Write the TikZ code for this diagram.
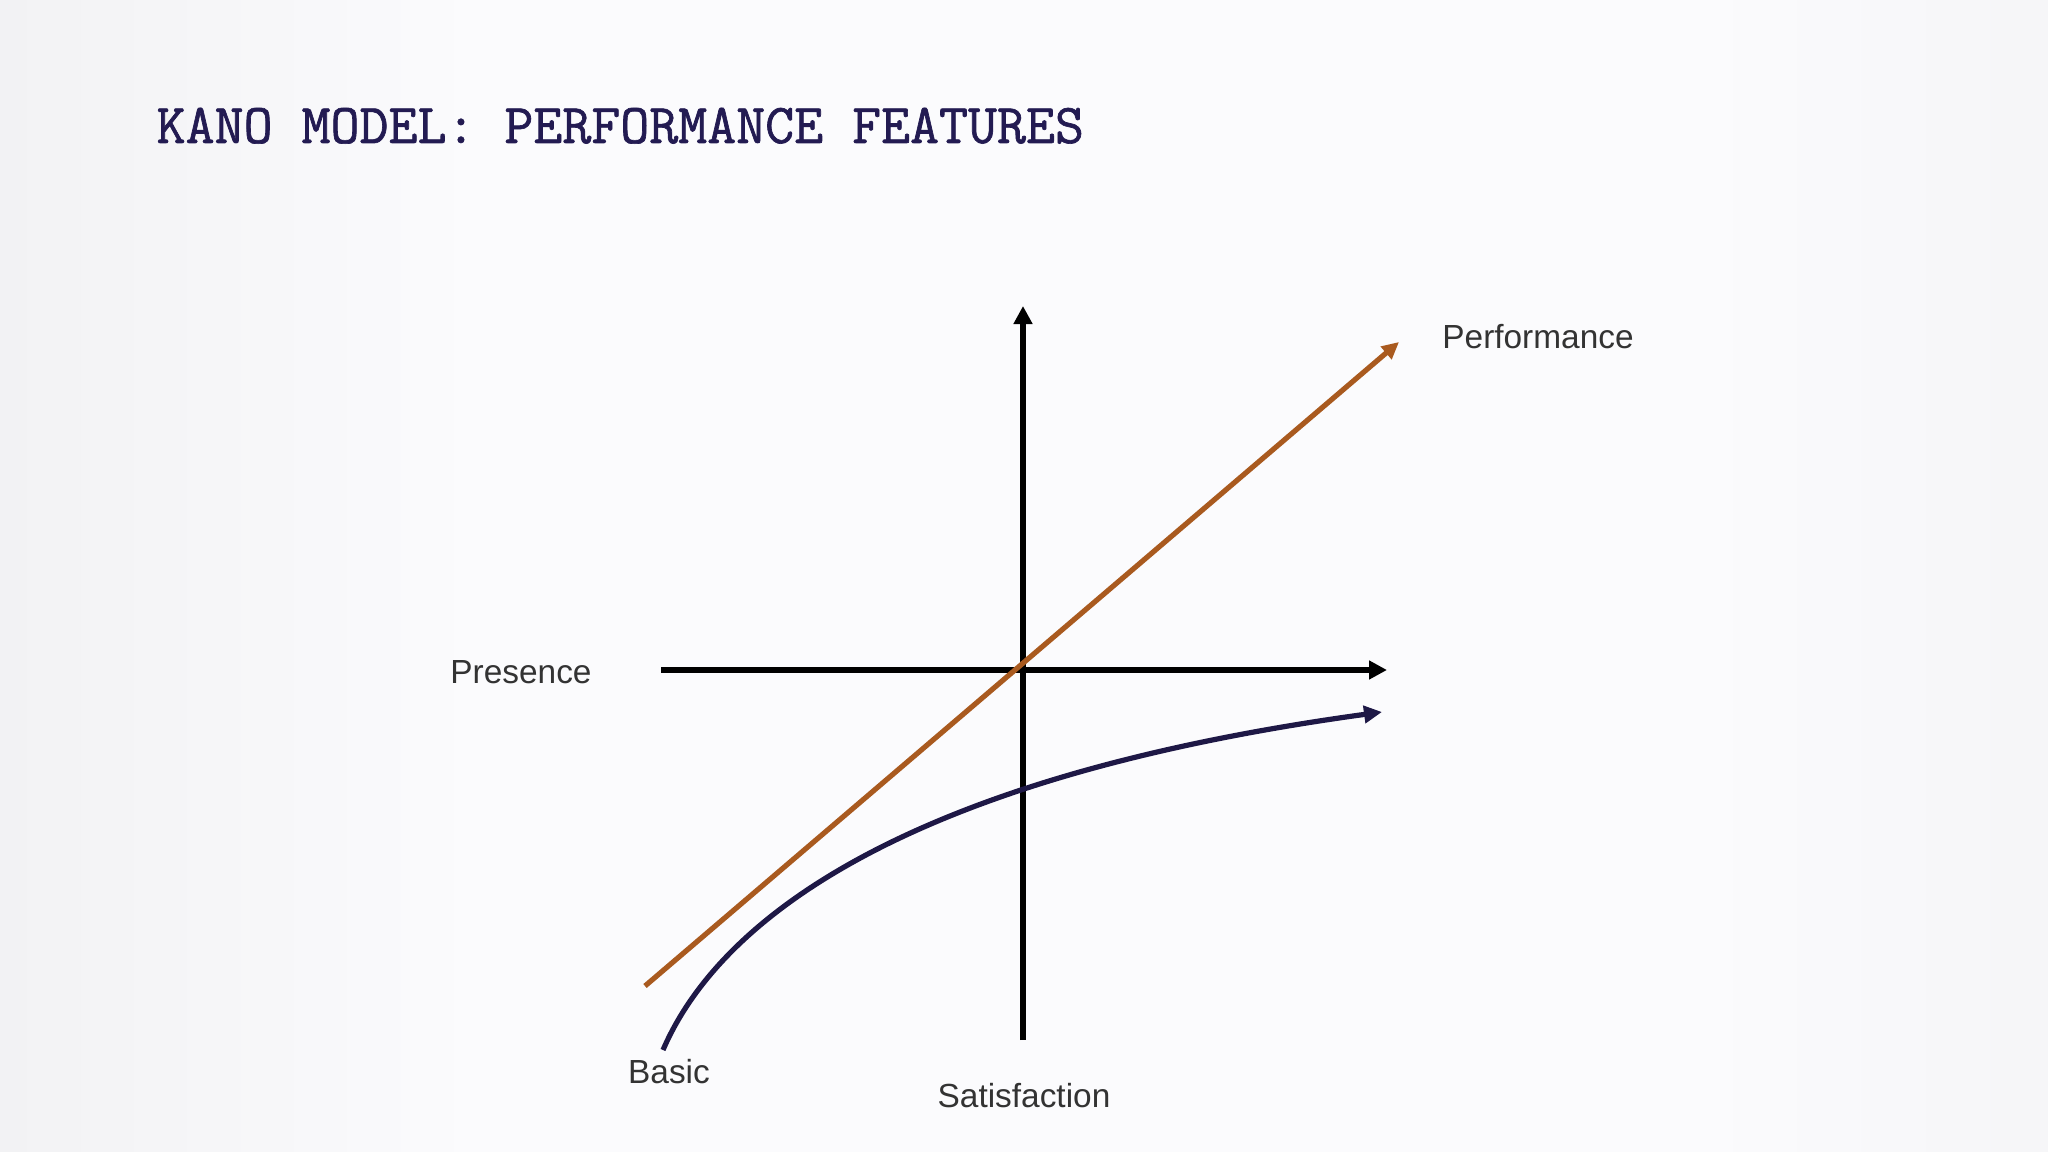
\documentclass[tikz,border=0pt]{standalone}
\usepackage{fontspec}
\setmainfont{Liberation Sans}
\newfontfamily\titlefont[FakeBold=1.2]{Latin Modern Mono}
\usetikzlibrary{arrows.meta}
\definecolor{titleblue}{HTML}{231B52}
\definecolor{labelgray}{HTML}{333333}
\definecolor{perforange}{HTML}{A95A1F}
\definecolor{basicnavy}{HTML}{1E1846}
\definecolor{bgedge}{HTML}{F2F2F4}
\definecolor{bgmain}{HTML}{FBFBFD}
\tikzset{
  axisline/.style={line width=0.056cm, draw=black, -{Triangle[length=0.18cm,width=0.18cm]}},
  perfline/.style={line width=0.052cm, draw=perforange, -{Triangle[length=0.17cm,width=0.16cm]}},
  basicline/.style={line width=0.052cm, draw=basicnavy, -{Triangle[length=0.18cm,width=0.17cm]}},
  lbl/.style={font=\fontsize{9.5}{11}\selectfont, text=labelgray, inner sep=0pt, anchor=base},
  ttl/.style={font=\titlefont\fontsize{16}{19}\selectfont, text=titleblue, inner sep=0pt, anchor=base west}
}
\begin{document}
\begin{tikzpicture}[x=0.01cm,y=-0.01cm]
\fill[bgmain] (0,0) rectangle (2048,1152);
\shade[left color=bgedge, right color=bgmain] (0,0) rectangle (480,1152);
\shade[left color=bgmain, right color=bgedge!60!bgmain] (1700,0) rectangle (2048,1152);
\useasboundingbox (0,0) rectangle (2048,1152);
\node[ttl] (title) at (156,143) {KANO MODEL: PERFORMANCE FEATURES};
% axes
\coordinate (vbot) at (1023,1040);
\coordinate (vtop) at (1023,306);
\coordinate (hleft) at (661,670);
\coordinate (hright) at (1387,670);
\draw[axisline] (vbot) -- (vtop);
\draw[axisline] (hleft) -- (hright);
% performance line
\coordinate (pstart) at (645,986);
\coordinate (pend) at (1399,342);
\draw[perfline] (pstart) -- (pend);
% basic curve
\coordinate (bstart) at (663,1050);
\coordinate (bend) at (1382,712);
\draw[basicline] (bstart) .. controls (718,922) and (900,778) .. (bend);
% labels
\node[lbl] (perf) at (1538,349) {Performance};
\node[lbl] (pres) at (521,683) {Presence};
\node[lbl] (basic) at (669,1083) {Basic};
\node[lbl] (sat) at (1024,1107) {Satisfaction};
\end{tikzpicture}
\end{document}
